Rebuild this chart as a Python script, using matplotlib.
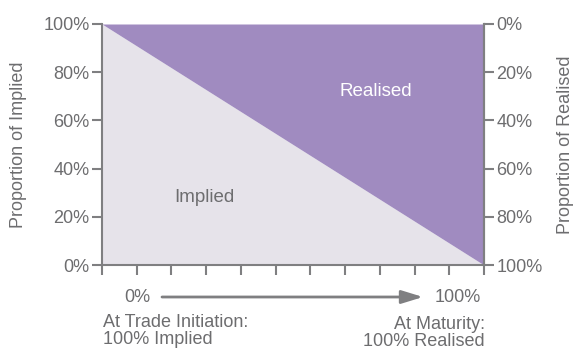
import matplotlib
matplotlib.use("Agg")
import matplotlib.pyplot as plt
import numpy as np

# data
progress = [0, 100]          # % of time to maturity
implied = [100, 0]           # proportion implied
realised_ticks = [0, 20, 40, 60, 80, 100]
implied_ticks = [0, 20, 40, 60, 80, 100]
x_ticks = np.linspace(0, 100, 12)

PURPLE = "#a08bc0"
LIGHT = "#e6e3ea"
GREY = "#7f7f81"
TXT = "#6d6d6f"
FS = 13

plt.rcParams["font.family"] = ["Liberation Sans", "DejaVu Sans"]

fig = plt.figure(figsize=(5.74, 3.51), dpi=100)
ax = fig.add_axes([102 / 574, 1 - 265 / 351, 382 / 574, 241 / 351])

ax.fill_between(progress, 0, implied, color=LIGHT, lw=0)
ax.fill_between(progress, implied, 100, color=PURPLE, lw=0)
ax.set_xlim(0, 100)
ax.set_ylim(0, 100)

ax.spines["top"].set_visible(False)
for s in ["left", "right", "bottom"]:
    ax.spines[s].set_color(GREY)
    ax.spines[s].set_linewidth(1.5)

ax.set_yticks(implied_ticks)
ax.set_yticklabels([f"{v}%" for v in implied_ticks])
ax.set_xticks(x_ticks)
ax.set_xticklabels([])
ax.tick_params(axis="both", colors=GREY, width=1.5, length=7, labelcolor=TXT,
               labelsize=FS, pad=2)

ax2 = ax.twinx()
ax2.set_ylim(100, 0)
ax2.set_yticks(realised_ticks)
ax2.set_yticklabels([f"{v}%" for v in realised_ticks])
for s in ["top", "left", "bottom"]:
    ax2.spines[s].set_visible(False)
ax2.spines["right"].set_color(GREY)
ax2.spines["right"].set_linewidth(1.5)
ax2.tick_params(axis="y", colors=GREY, width=1.5, length=7, labelcolor=TXT,
                labelsize=FS, pad=2)

fig.text(19 / 574, 1 - 145 / 351, "Proportion of Implied", rotation=90,
         ha="center", va="center", color=TXT, fontsize=FS)
fig.text(565 / 574, 1 - 145 / 351, "Proportion of Realised", rotation=90,
         ha="center", va="center", color=TXT, fontsize=FS)

narrow = ["Liberation Sans Narrow", "Liberation Sans", "DejaVu Sans"]
ax.text(26.7, 28.2, "Implied", ha="center", va="center", color=TXT,
        fontsize=13.5, family=narrow)
ax.text(71.7, 71.8, "Realised", ha="center", va="center", color="white",
        fontsize=13.5, family=narrow)

# bottom annotation
ax.annotate("", xy=(423 / 574, 1 - 297 / 351), xytext=(162 / 574, 1 - 297 / 351),
            xycoords="figure fraction", textcoords="figure fraction",
            arrowprops=dict(arrowstyle="-|>,head_length=1.3,head_width=0.4",
                            color=GREY, lw=2, shrinkA=0, shrinkB=0))
fig.text(137 / 574, 1 - 298 / 351, "0%", ha="center", va="center", color=TXT,
         fontsize=FS)
fig.text(458 / 574, 1 - 298 / 351, "100%", ha="center", va="center", color=TXT,
         fontsize=FS)
fig.text(103 / 574, 1 - 331 / 351, "At Trade Initiation:\n100% Implied",
         ha="left", va="center", color=TXT, fontsize=FS, linespacing=1.05)
fig.text(485 / 574, 1 - 333 / 351, "At Maturity:\n100% Realised",
         ha="right", va="center", color=TXT, fontsize=FS, linespacing=1.05,
         multialignment="right")

fig.savefig("out.png", dpi=100)
